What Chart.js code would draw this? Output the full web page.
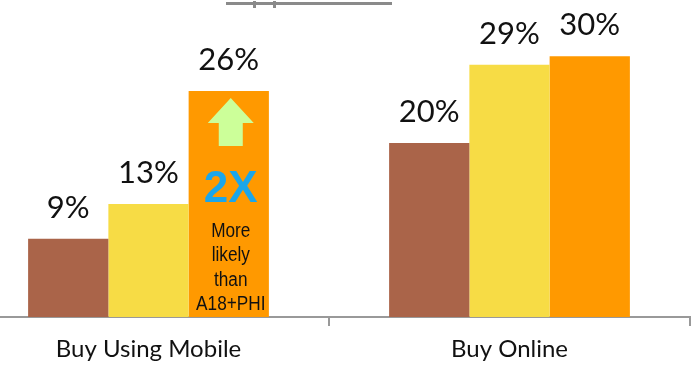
<!DOCTYPE html>
<html lang="en">
<head>
    <meta charset="UTF-8">
    <title>Buy Using Mobile / Buy Online</title>
    <script src="https://cdn.jsdelivr.net/npm/chart.js"></script>
    <style>
        html, body { margin: 0; padding: 0; background: #fff; overflow: hidden; }
        body { width: 693px; height: 367px; position: relative; }
        #wrap { position: absolute; left: -32px; top: 0; width: 725px; height: 367px; }
        /* petit trait gris en haut */
        #rule { position: absolute; left: 226px; top: 2px; width: 166px; height: 3px; background: #8a8a8a; }
        #rule span { position: absolute; top: -1px; width: 3px; height: 7px; background: #8a8a8a; }
    </style>
</head>
<body>
    <div id="rule"><span style="left:27px"></span><span style="left:47px"></span></div>
    <div id="wrap"><canvas id="chart"></canvas></div>

    <script>
        // Donnees
        const categories = ['Buy Using Mobile', 'Buy Online'];
        const serieA = [9, 20];
        const serieB = [13, 29];
        const serieC = [26, 30];
        const couleurs = ['#AA6449', '#F7DC45', '#FF9900'];
        const noteGrand = '2X';
        const noteTexte = ['More', 'likely', 'than', 'A18+PHI'];

        // Etiquettes "xx%" au dessus des barres
        const etiquettes = {
            id: 'etiquettes',
            afterDatasetsDraw(chart) {
                const ctx = chart.ctx;
                ctx.save();
                ctx.font = '31px Lato';
                ctx.fillStyle = '#111';
                ctx.textAlign = 'center';
                ctx.textBaseline = 'alphabetic';
                chart.data.datasets.forEach((ds, i) => {
                    chart.getDatasetMeta(i).data.forEach((bar, j) => {
                        ctx.fillText(ds.data[j] + '%', bar.x, bar.y - 21);
                    });
                });
                ctx.restore();
            }
        };

        // Fleche + "2X" dans la barre orange du premier groupe
        const annotation = {
            id: 'annotation',
            afterDatasetsDraw(chart) {
                const bar = chart.getDatasetMeta(2).data[0];
                const ctx = chart.ctx;
                const cx = bar.x + 2, top = bar.y + 7;
                ctx.save();
                ctx.fillStyle = '#CCFF99';
                ctx.beginPath();
                ctx.moveTo(cx, top);
                ctx.lineTo(cx + 23, top + 25);
                ctx.lineTo(cx + 12, top + 25);
                ctx.lineTo(cx + 12, top + 48);
                ctx.lineTo(cx - 12, top + 48);
                ctx.lineTo(cx - 12, top + 25);
                ctx.lineTo(cx - 23, top + 25);
                ctx.closePath();
                ctx.fill();

                ctx.textAlign = 'center';
                ctx.textBaseline = 'alphabetic';
                ctx.fillStyle = '#1BA6EA';
                ctx.font = 'bold 44px "Liberation Sans"';
                ctx.fillText(noteGrand, bar.x + 2, bar.y + 111);

                // texte un peu etroit
                ctx.fillStyle = '#111';
                ctx.font = '20px "Liberation Sans"';
                ctx.translate(bar.x + 2, 0);
                ctx.scale(0.86, 1);
                noteTexte.forEach((t, k) => {
                    ctx.fillText(t, 0, bar.y + 146 + k * 24.3);
                });
                ctx.restore();
            }
        };

        const chart = new Chart(document.getElementById('chart'), {
            type: 'bar',
            data: {
                labels: categories,
                datasets: [
                    { data: serieA, backgroundColor: couleurs[0] },
                    { data: serieB, backgroundColor: couleurs[1] },
                    { data: serieC, backgroundColor: couleurs[2] }
                ]
            },
            options: {
                responsive: true,
                maintainAspectRatio: false,
                animation: false,
                barPercentage: 1,
                categoryPercentage: 0.667,
                layout: { padding: { top: 4, right: 3, bottom: 0, left: 0 } },
                plugins: {
                    legend: { display: false },
                    tooltip: { enabled: false }
                },
                scales: {
                    x: {
                        afterFit(s) { s.height = 50; },
                        border: { color: '#999', width: 2 },
                        grid: { display: true, drawOnChartArea: false, drawTicks: true, tickLength: 9, color: '#999', lineWidth: 2 },
                        ticks: { color: '#111', font: { family: 'Lato', size: 24 }, padding: 9 }
                    },
                    y: {
                        display: false,
                        min: 0,
                        max: 36
                    }
                }
            },
            plugins: [etiquettes, annotation]
        });
    </script>
</body>
</html>
